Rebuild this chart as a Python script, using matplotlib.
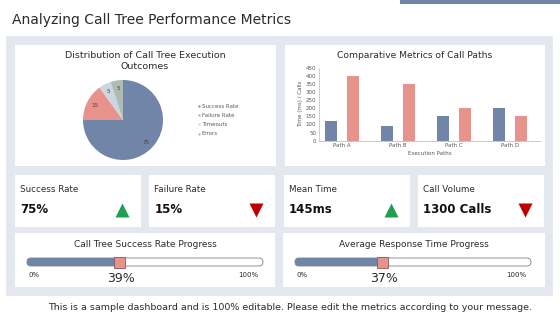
import numpy as np
import matplotlib
matplotlib.rcParams['font.family'] = 'DejaVu Sans'
import matplotlib.pyplot as plt
from matplotlib.patches import Rectangle, FancyBboxPatch

# data
pie_labels = ['Success Rate', 'Failure Rate', 'Timeouts', 'Errors']
pie_values = [75, 15, 5, 5]
paths = ['Path A', 'Path B', 'Path C', 'Path D']
series_blue = [120, 90, 150, 200]
series_red = [400, 350, 200, 150]
kpi_names = ['Success Rate', 'Failure Rate', 'Mean Time', 'Call Volume']
kpi_values = ['75%', '15%', '145ms', '1300 Calls']
kpi_up = [True, False, True, False]
prog_titles = ['Call Tree Success Rate Progress', 'Average Response Time Progress']
prog_values = [39, 37]

BLUE = '#7185A8'
SALMON = '#E8928C'
PANEL = '#E4E8EE'
TXT = '#2B2B2B'
W, H = 560, 315

fig = plt.figure(figsize=(W / 100, H / 100), dpi=100)
fig.patch.set_facecolor('white')

# overlay in pixel coords
bg = fig.add_axes([0, 0, 1, 1])
bg.set_xlim(0, W)
bg.set_ylim(H, 0)
bg.axis('off')


def px_axes(x, y, w, h):
    return fig.add_axes([x / W, 1 - (y + h) / H, w / W, h / H])


bg.add_patch(Rectangle((400, 0), 160, 4, color=BLUE, lw=0))
bg.text(12, 20, 'Analyzing Call Tree Performance Metrics', fontsize=10, color=TXT, va='center', ha='left')
bg.add_patch(Rectangle((6, 36), 547, 260, color=PANEL, lw=0))
bg.add_patch(Rectangle((15, 45), 261, 121, color='white', lw=0))
bg.add_patch(Rectangle((285, 45), 260, 121, color='white', lw=0))

# kpi cards
card_w = 126
for i in range(4):
    x0 = 15 + i * 134.3
    bg.add_patch(Rectangle((x0, 175), card_w, 52, color='white', lw=0))
    bg.text(x0 + 5, 189, kpi_names[i], fontsize=6.3, color=TXT, va='center')
    bg.text(x0 + 5, 209.5, kpi_values[i], fontsize=8.5, fontweight='bold', color='#111111', va='center')
    if kpi_up[i]:
        bg.plot(x0 + card_w - 19, 210, marker='^', ms=9.5, color='#1E9E50', mec='none')
    else:
        bg.plot(x0 + card_w - 19, 210, marker='v', ms=9.5, color='#C00000', mec='none')

# progress panels
for i, (x0, w) in enumerate([(15, 260), (283, 262)]):
    bg.add_patch(Rectangle((x0, 233), w, 54, color='white', lw=0))
    bx = x0 + 12
    bw = 236
    cx = x0 + w / 2
    bg.text(cx, 244.5, prog_titles[i], fontsize=6.5, color=TXT, ha='center', va='center')
    bg.add_patch(FancyBboxPatch((bx, 258), bw, 8, boxstyle='round,pad=0,rounding_size=4',
                                fc='white', ec='#7F7F7F', lw=0.6))
    mx = bx + bw * prog_values[i] / 100
    bg.add_patch(FancyBboxPatch((bx, 258), mx - bx, 8, boxstyle='round,pad=0,rounding_size=4',
                                fc=BLUE, ec='none'))
    bg.add_patch(Rectangle((mx - 5.5, 256.5), 11, 11, fc=SALMON, ec='#8C5A57', lw=0.6))
    bg.text(bx + 7, 275, '0%', fontsize=5, color=TXT, ha='center', va='center')
    bg.text(bx + bw - 5, 275, '100%', fontsize=5, color=TXT, ha='right', va='center')
    bg.text(mx + 2, 278, f'{prog_values[i]}%', fontsize=9, color=TXT, ha='center', va='center')

bg.text(290, 307, 'This is a sample dashboard and is 100% editable. Please edit the metrics according to your message.',
        fontsize=6.8, color=TXT, ha='center', va='center')

# pie
bg.text(145, 61, 'Distribution of Call Tree Execution\nOutcomes', fontsize=6.8, color=TXT,
        ha='center', va='center', linespacing=1.25)
pax = px_axes(83, 80, 80, 80)
pie_colors = [BLUE, SALMON, '#CCD6E3', '#AEBBB3']
wedges, _, autotexts = pax.pie(pie_values, colors=pie_colors, startangle=90, counterclock=False,
                               autopct=lambda p: f'{p:.0f}', pctdistance=0.8,
                               textprops={'fontsize': 4, 'color': '#404040'})
pax.set_xlim(-1, 1)
pax.set_ylim(-1, 1)
for j, lab in enumerate(pie_labels):
    y = 106 + j * 9.2
    bg.plot(199, y, marker='s', ms=1.8, color=pie_colors[j], mec='none')
    bg.text(202, y, lab, fontsize=4, color='#595959', va='center')

# bars
bg.text(415, 56, 'Comparative Metrics of Call Paths', fontsize=6.6, color=TXT, ha='center', va='center')
bax = px_axes(319, 67.7, 221, 73)
x = np.arange(len(paths))
bax.bar(x - 0.196, series_blue, width=0.21, color=BLUE)
bax.bar(x + 0.196, series_red, width=0.21, color=SALMON)
bax.set_xlim(-0.41, 3.54)
bax.set_ylim(0, 450)
bax.set_yticks(np.arange(0, 451, 50))
bax.set_xticks(x)
bax.set_xticklabels(paths)
bax.tick_params(axis='both', labelsize=4, colors='#595959', length=0, pad=2)
for s in ['top', 'right']:
    bax.spines[s].set_visible(False)
bax.spines['left'].set_color('#BFBFBF')
bax.spines['bottom'].set_color('#BFBFBF')
bax.spines['left'].set_linewidth(0.5)
bax.spines['bottom'].set_linewidth(0.6)
bax.set_ylabel('Time (ms) / Calls', fontsize=4, color='#595959', labelpad=2)
bax.set_xlabel('Execution Paths', fontsize=4, color='#595959', labelpad=2)
bax.patch.set_alpha(0)

fig.savefig('out.png', dpi=100)
